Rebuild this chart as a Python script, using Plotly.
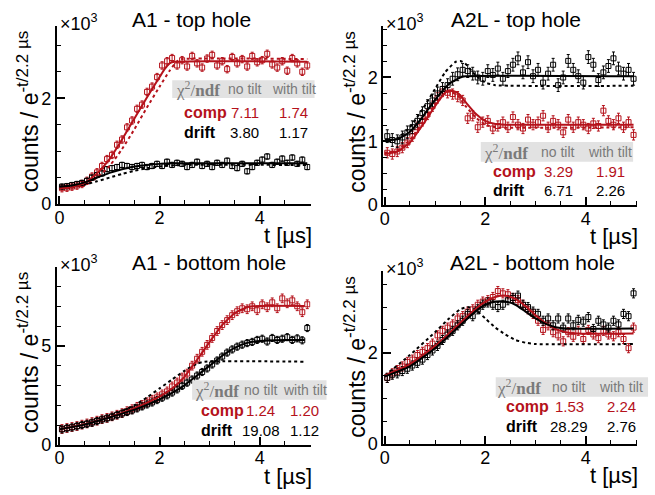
import plotly.graph_objects as go

# ---------------- data (values in units of 10^3 counts) ----------------
t_bins = [round(0.05 + 0.1 * i, 2) for i in range(50)]

# A1 - top hole
a1top_comp = [0.30, 0.31, 0.33, 0.35, 0.38, 0.44, 0.52, 0.60, 0.72, 0.85,
              0.93, 1.12, 1.22, 1.45, 1.58, 1.80, 1.88, 2.12, 2.22, 2.40,
              2.62, 2.70, 2.76, 2.62, 2.72, 2.60, 2.80, 2.66, 2.58, 2.75,
              2.82, 2.62, 2.70, 2.55, 2.78, 2.66, 2.74, 2.60, 2.80, 2.68,
              2.72, 2.84, 2.64, 2.58, 2.70, 2.52, 2.76, 2.66, 2.50, 2.62]
a1top_drift = [0.33, 0.34, 0.36, 0.38, 0.40, 0.44, 0.50, 0.55, 0.58, 0.66,
               0.68, 0.70, 0.74, 0.72, 0.70, 0.72, 0.74, 0.70, 0.72, 0.76,
               0.72, 0.80, 0.74, 0.78, 0.76, 0.70, 0.74, 0.80, 0.72, 0.76,
               0.70, 0.78, 0.74, 0.82, 0.72, 0.68, 0.76, 0.62, 0.70, 0.78,
               0.84, 0.90, 0.74, 0.80, 0.86, 0.78, 0.88, 0.76, 0.84, 0.70]
a1top_comp_err = 0.07
a1top_drift_err = 0.05
a1top_comp_tilt_t = [0, 0.25, 0.5, 0.75, 1.0, 1.25, 1.5, 1.75, 2.0, 2.1, 2.2, 2.3, 4.95]
a1top_comp_tilt = [0.30, 0.32, 0.40, 0.58, 0.85, 1.22, 1.62, 2.02, 2.40, 2.55, 2.66, 2.69, 2.69]
a1top_comp_notilt_t = [0, 0.25, 0.5, 0.75, 1.0, 1.25, 1.5, 1.75, 2.0, 2.2, 2.35, 2.45, 4.95]
a1top_comp_notilt = [0.30, 0.31, 0.37, 0.50, 0.72, 1.04, 1.42, 1.83, 2.22, 2.52, 2.70, 2.74, 2.74]
a1top_drift_tilt_t = [0, 0.25, 0.5, 0.75, 1.0, 1.25, 1.5, 1.75, 2.0, 2.25, 4.95]
a1top_drift_tilt = [0.33, 0.35, 0.41, 0.50, 0.59, 0.66, 0.71, 0.74, 0.76, 0.77, 0.77]
a1top_drift_notilt_t = [0, 0.5, 0.75, 1.0, 1.25, 1.5, 1.75, 2.0, 2.25, 2.5, 4.95]
a1top_drift_notilt = [0.33, 0.37, 0.43, 0.50, 0.57, 0.63, 0.68, 0.71, 0.73, 0.74, 0.74]

# A2L - top hole
a2top_comp = [0.82, 0.80, 0.84, 0.90, 0.98, 1.08, 1.22, 1.32, 1.42, 1.55,
              1.68, 1.78, 1.76, 1.74, 1.70, 1.64, 1.36, 1.40, 1.22, 1.30,
              1.32, 1.20, 1.24, 1.30, 1.22, 1.38, 1.26, 1.20, 1.34, 1.26,
              1.30, 1.40, 1.22, 1.32, 1.26, 1.14, 1.34, 1.22, 1.30, 1.26,
              1.20, 1.28, 1.24, 1.48, 1.32, 1.26, 1.36, 1.22, 1.30, 1.10]
a2top_drift = [1.08, 1.02, 1.00, 1.06, 1.14, 1.22, 1.32, 1.44, 1.55, 1.64,
               1.75, 1.82, 1.88, 1.98, 2.05, 2.12, 2.10, 2.06, 2.00, 1.98,
               2.10, 2.04, 2.14, 1.98, 2.10, 2.20, 2.30, 2.08, 2.24, 2.02,
               2.12, 1.92, 2.06, 2.20, 1.88, 2.00, 2.26, 2.12, 2.02, 1.92,
               2.32, 2.20, 1.96, 2.08, 2.18, 2.30, 2.14, 2.06, 2.12, 1.98]
a2top_comp_err = 0.08
a2top_drift_err = 0.10
a2top_comp_tilt_t = [0, 0.25, 0.5, 0.75, 1.0, 1.2, 1.3, 1.45, 1.6, 1.8, 2.0, 2.2, 2.4, 4.95]
a2top_comp_tilt = [0.80, 0.84, 0.98, 1.25, 1.55, 1.76, 1.80, 1.76, 1.62, 1.44, 1.32, 1.27, 1.26, 1.26]
a2top_comp_notilt_t = [0, 0.25, 0.5, 0.75, 1.0, 1.2, 1.3, 1.45, 1.6, 1.8, 2.0, 2.2, 4.95]
a2top_comp_notilt = [0.82, 0.86, 1.02, 1.30, 1.58, 1.76, 1.78, 1.72, 1.56, 1.38, 1.26, 1.22, 1.22]
a2top_drift_tilt_t = [0, 0.25, 0.5, 0.75, 1.0, 1.25, 1.5, 1.6, 4.95]
a2top_drift_tilt = [1.02, 1.03, 1.15, 1.38, 1.65, 1.88, 2.00, 2.02, 2.02]
a2top_drift_notilt_t = [0, 0.25, 0.5, 0.75, 1.0, 1.2, 1.4, 1.5, 1.6, 1.8, 2.0, 2.2, 4.95]
a2top_drift_notilt = [1.00, 1.05, 1.22, 1.50, 1.82, 2.08, 2.24, 2.26, 2.22, 2.04, 1.92, 1.88, 1.87]

# A1 - bottom hole
a1bot_comp = [0.80, 0.85, 0.90, 0.95, 1.02, 1.08, 1.15, 1.22, 1.30, 1.36,
              1.44, 1.52, 1.60, 1.70, 1.80, 1.92, 2.02, 2.15, 2.28, 2.40,
              2.55, 2.70, 2.95, 3.15, 3.40, 3.60, 4.00, 4.35, 4.70, 5.05,
              5.40, 5.75, 6.05, 6.30, 6.55, 6.75, 6.90, 6.85, 7.00, 6.80,
              7.10, 6.95, 7.20, 6.90, 7.40, 7.15, 7.30, 7.00, 6.70, 7.10]
a1bot_drift = [0.78, 0.84, 0.88, 0.94, 1.00, 1.06, 1.12, 1.20, 1.28, 1.34,
               1.42, 1.50, 1.58, 1.66, 1.74, 1.84, 1.94, 2.04, 2.14, 2.26,
               2.38, 2.50, 2.64, 2.80, 2.98, 3.14, 3.30, 3.50, 3.68, 3.86,
               4.06, 4.26, 4.46, 4.66, 4.82, 4.96, 5.06, 5.14, 5.20, 5.30,
               5.36, 5.22, 5.40, 5.30, 5.36, 5.44, 5.30, 5.38, 5.28, 5.90]
a1bot_comp_err = 0.22
a1bot_drift_err = 0.18
a1bot_comp_tilt_t = [0, 0.5, 1.0, 1.5, 2.0, 2.25, 2.5, 2.75, 3.0, 3.25, 3.5, 3.75, 4.0, 4.9]
a1bot_comp_tilt = [0.78, 1.04, 1.40, 1.85, 2.45, 2.85, 3.45, 4.30, 5.20, 6.05, 6.65, 6.95, 7.02, 7.02]
a1bot_drift_tilt_t = [0, 0.5, 1.0, 1.5, 2.0, 2.25, 2.5, 2.75, 3.0, 3.25, 3.5, 3.75, 4.0, 4.5, 4.9]
a1bot_drift_tilt = [0.78, 1.02, 1.38, 1.78, 2.30, 2.62, 3.02, 3.50, 4.00, 4.50, 4.90, 5.15, 5.25, 5.30, 5.30]
a1bot_drift_notilt_t = [0, 0.5, 1.0, 1.5, 1.75, 2.0, 2.25, 2.5, 2.75, 2.9, 4.9]
a1bot_drift_notilt = [0.78, 1.05, 1.45, 2.00, 2.40, 2.85, 3.30, 3.75, 4.10, 4.20, 4.20]

# A2L - bottom hole
a2bot_comp = [1.45, 1.55, 1.62, 1.70, 1.80, 1.85, 1.95, 2.02, 2.10, 2.20,
              2.38, 2.48, 2.55, 2.62, 2.75, 2.80, 2.90, 2.95, 3.05, 3.12,
              3.15, 3.22, 3.35, 3.30, 3.28, 3.20, 3.15, 3.05, 2.95, 2.85,
              2.70, 2.50, 2.60, 2.45, 2.38, 2.25, 2.45, 2.35, 2.48, 2.30,
              2.50, 2.40, 2.32, 2.48, 2.40, 2.36, 2.45, 2.30, 2.10, 2.55]
a2bot_drift = [1.45, 1.52, 1.55, 1.60, 1.65, 1.72, 1.78, 1.85, 1.95, 2.05,
               2.15, 2.28, 2.40, 2.48, 2.60, 2.70, 2.85, 2.80, 2.95, 3.05,
               3.10, 3.05, 3.00, 3.05, 3.15, 3.20, 3.25, 3.05, 3.00, 2.90,
               2.85, 2.70, 2.75, 2.60, 2.75, 2.55, 2.75, 2.60, 2.72, 2.68,
               2.78, 2.52, 2.70, 2.62, 2.55, 2.70, 2.62, 2.85, 2.80, 3.30]
a2bot_comp_err = 0.10
a2bot_drift_err = 0.10
a2bot_comp_tilt_t = [0, 0.5, 1.0, 1.5, 1.8, 2.0, 2.2, 2.4, 2.6, 2.8, 3.0, 3.2, 3.4, 3.6, 3.8, 4.95]
a2bot_comp_tilt = [1.50, 1.75, 2.15, 2.65, 2.95, 3.12, 3.22, 3.25, 3.18, 3.02, 2.82, 2.65, 2.52, 2.45, 2.42, 2.42]
a2bot_drift_tilt_t = [0, 0.5, 1.0, 1.5, 1.8, 2.0, 2.2, 2.4, 2.6, 2.8, 3.0, 3.2, 3.4, 3.6, 4.95]
a2bot_drift_tilt = [1.48, 1.70, 2.10, 2.60, 2.90, 3.05, 3.12, 3.12, 3.05, 2.90, 2.75, 2.63, 2.56, 2.53, 2.53]
a2bot_drift_notilt_t = [0, 0.5, 1.0, 1.25, 1.5, 1.65, 1.8, 2.0, 2.2, 2.4, 2.6, 2.8, 3.0, 4.95]
a2bot_drift_notilt = [1.50, 1.95, 2.45, 2.72, 2.95, 3.00, 2.95, 2.75, 2.55, 2.40, 2.28, 2.22, 2.19, 2.19]

# chi2/ndf tables: (comp no tilt, comp with tilt, drift no tilt, drift with tilt)
chi2_a1top = ["7.11", "1.74", "3.80", "1.17"]
chi2_a2top = ["3.29", "1.91", "6.71", "2.26"]
chi2_a1bot = ["1.24", "1.20", "19.08", "1.12"]
chi2_a2bot = ["1.53", "2.24", "28.29", "2.76"]

titles = ["A1 - top hole", "A2L - top hole", "A1 - bottom hole", "A2L - bottom hole"]

# ---------------- figure ----------------
W, H = 655, 495
RED = "#b5121b"
GRAY_TXT = "#7a7a7a"
FONT = "Liberation Sans, Arial, sans-serif"
SERIF = "Liberation Serif, DejaVu Serif, serif"


def fx(p):
    return p / W


def fy(p):
    return 1 - p / H


panels = [
    dict(comp=a1top_comp, drift=a1top_drift, ce=a1top_comp_err, de=a1top_drift_err,
         lines=[(a1top_comp_notilt_t, a1top_comp_notilt, RED, True),
                (a1top_drift_notilt_t, a1top_drift_notilt, "black", True),
                (a1top_comp_tilt_t, a1top_comp_tilt, RED, False),
                (a1top_drift_tilt_t, a1top_drift_tilt, "black", False)],
         chi=chi2_a1top, title=titles[0],
         xpx=(54, 309), ypx=(27, 208.3), xr=(-0.054, 5.016), yr=(0, 3.357), ydt=2, ymin=0.5,
         rect=(170, 313, 82, 100), cols=(196, 243, 292), rows=(91, 115, 135), lab=180,
         title_x=189, top=20),
    dict(comp=a2top_comp, drift=a2top_drift, ce=a2top_comp_err, de=a2top_drift_err,
         lines=[(a2top_comp_notilt_t, a2top_comp_notilt, RED, True),
                (a2top_drift_notilt_t, a2top_drift_notilt, "black", True),
                (a2top_comp_tilt_t, a2top_comp_tilt, RED, False),
                (a2top_drift_tilt_t, a2top_drift_tilt, "black", False)],
         chi=chi2_a2top, title=titles[1],
         xpx=(382, 637), ypx=(27, 209.3), xr=(-0.03, 5.02), yr=(0, 2.80), ydt=1, ymin=0.25,
         rect=(480, 633, 145, 165), cols=(505, 558, 610), rows=(155, 175, 194), lab=490,
         title_x=515, top=20),
    dict(comp=a1bot_comp, drift=a1bot_drift, ce=a1bot_comp_err, de=a1bot_drift_err,
         lines=[(a1bot_drift_notilt_t, a1bot_drift_notilt, "black", True),
                (a1bot_comp_tilt_t, a1bot_comp_tilt, RED, False),
                (a1bot_drift_tilt_t, a1bot_drift_tilt, "black", False)],
         chi=chi2_a1bot, title=titles[2],
         xpx=(54, 309), ypx=(273, 454), xr=(-0.054, 5.016), yr=(0, 8.96), ydt=5, ymin=1,
         rect=(190, 325, 388, 408), cols=(215, 259, 303), rows=(398, 419, 439), lab=197,
         title_x=207, top=268),
    dict(comp=a2bot_comp, drift=a2bot_drift, ce=a2bot_comp_err, de=a2bot_drift_err,
         lines=[(a2bot_drift_notilt_t, a2bot_drift_notilt, "black", True),
                (a2bot_comp_tilt_t, a2bot_comp_tilt, RED, False),
                (a2bot_drift_tilt_t, a2bot_drift_tilt, "black", False)],
         chi=chi2_a2bot, title=titles[3],
         xpx=(382, 637), ypx=(277, 453.3), xr=(-0.03, 5.02), yr=(0, 3.78), ydt=2, ymin=0.5,
         rect=(495, 648, 385, 405), cols=(518, 569, 621), rows=(395, 415, 435), lab=503,
         title_x=532, top=268),
]

fig = go.Figure()
annotations = []
shapes = []

for i, p in enumerate(panels, start=1):
    xa = "x" if i == 1 else f"x{i}"
    ya = "y" if i == 1 else f"y{i}"
    # data points
    for vals, err, col in ((p["comp"], p["ce"], RED), (p["drift"], p["de"], "black")):
        fig.add_trace(go.Scatter(
            x=t_bins, y=vals, mode="markers", xaxis=xa, yaxis=ya,
            marker=dict(symbol="square-open", size=5, color=col, line=dict(width=1, color=col)),
            error_y=dict(type="constant", value=err, color=col, thickness=1, width=1.5),
            showlegend=False, hoverinfo="skip"))
    # fit curves
    for tt, vv, col, dotted in p["lines"]:
        fig.add_trace(go.Scatter(
            x=tt, y=vv, mode="lines", xaxis=xa, yaxis=ya,
            line=dict(color=col, width=2, dash="3px,3px" if dotted else "solid", shape="spline",
                      smoothing=0.5),
            showlegend=False, hoverinfo="skip"))

    xkey = "xaxis" if i == 1 else f"xaxis{i}"
    ykey = "yaxis" if i == 1 else f"yaxis{i}"
    common = dict(showline=True, linecolor="black", linewidth=2, ticks="inside",
                  tickcolor="black", tickwidth=1.5, ticklen=8, showgrid=False, zeroline=False,
                  mirror=False, tickfont=dict(family=FONT, size=18, color="black"))
    fig.update_layout({
        xkey: dict(common, domain=[fx(p["xpx"][0]), fx(p["xpx"][1])], range=list(p["xr"]),
                   anchor=ya, tickmode="linear", tick0=0, dtick=2, ticklabelstandoff=-4,
                   minor=dict(ticks="inside", tick0=0, dtick=0.5, ticklen=4, tickwidth=1.2,
                              tickcolor="black")),
        ykey: dict(common, domain=[fy(p["ypx"][1]), fy(p["ypx"][0])], range=list(p["yr"]),
                   anchor=xa, tickmode="linear", tick0=0, dtick=p["ydt"],
                   minor=dict(ticks="inside", tick0=0, dtick=p["ymin"], ticklen=4,
                              tickwidth=1.2, tickcolor="black")),
    })

    x0, x1 = p["xpx"]
    y0, y1 = p["ypx"]
    # title
    annotations.append(dict(text=p["title"], x=fx(p["title_x"]), y=fy(p["top"]), xref="paper",
                            yref="paper", xanchor="center", yanchor="middle", showarrow=False,
                            font=dict(family=FONT, size=21, color="black")))
    # x10^3
    annotations.append(dict(text="×10<sup>3</sup>", x=fx(x0 + 1), y=fy(y0 - 4), xref="paper",
                            yref="paper", xanchor="left", yanchor="middle", showarrow=False,
                            font=dict(family=FONT, size=18, color="black")))
    # x-axis title
    annotations.append(dict(text="t [µs]", x=fx(x1 + 3), y=fy(y1 + 32), xref="paper",
                            yref="paper", xanchor="right", yanchor="middle", showarrow=False,
                            font=dict(family=FONT, size=22, color="black")))
    # y-axis title (right-aligned to the top of the axis, as ROOT does)
    annotations.append(dict(text="counts / e<sup><span style='font-size:17px'>-t/2.2 µs</span></sup>",
                            x=fx(x0 - 28), y=fy(y0 + 2), xref="paper", yref="paper",
                            xanchor="center", yanchor="top", textangle=-90, showarrow=False,
                            font=dict(family=FONT, size=23, color="black")))
    # chi2 table
    rx0, rx1, ry0, ry1 = p["rect"]
    shapes.append(dict(type="rect", xref="paper", yref="paper", x0=fx(rx0), x1=fx(rx1),
                       y0=fy(ry1), y1=fy(ry0), fillcolor="#e2e2e2", line=dict(width=0),
                       layer="above"))
    c0, c1, c2 = p["cols"]
    r0, r1, r2 = p["rows"]
    annotations.append(dict(text="χ<sup>2</sup>/<b>ndf</b>", x=fx(c0), y=fy(r0),
                            xref="paper", yref="paper", xanchor="center", yanchor="middle",
                            showarrow=False, font=dict(family=SERIF, size=17, color=GRAY_TXT)))
    for txt, cx in (("no tilt", c1), ("with tilt", c2)):
        annotations.append(dict(text=txt, x=fx(cx), y=fy(r0), xref="paper", yref="paper",
                                xanchor="center", yanchor="middle", showarrow=False,
                                font=dict(family=FONT, size=14, color=GRAY_TXT)))
    for lab, row, col, vals in (("comp", r1, RED, p["chi"][0:2]),
                                ("drift", r2, "black", p["chi"][2:4])):
        annotations.append(dict(text=f"<b>{lab}</b>", x=fx(p["lab"]), y=fy(row), xref="paper",
                                yref="paper", xanchor="left", yanchor="middle", showarrow=False,
                                font=dict(family=FONT, size=16, color=col)))
        for v, cx in zip(vals, (c1, c2)):
            annotations.append(dict(text=v, x=fx(cx), y=fy(row), xref="paper", yref="paper",
                                    xanchor="center", yanchor="middle", showarrow=False,
                                    font=dict(family=FONT, size=15, color=col)))

fig.update_layout(width=W, height=H, margin=dict(l=0, r=0, t=0, b=0),
                  paper_bgcolor="white", plot_bgcolor="rgba(0,0,0,0)",
                  annotations=annotations, shapes=shapes, showlegend=False)

fig.write_html("out.html", config={"displayModeBar": False},
               post_script="document.body.style.margin='0';document.body.style.padding='0';")
